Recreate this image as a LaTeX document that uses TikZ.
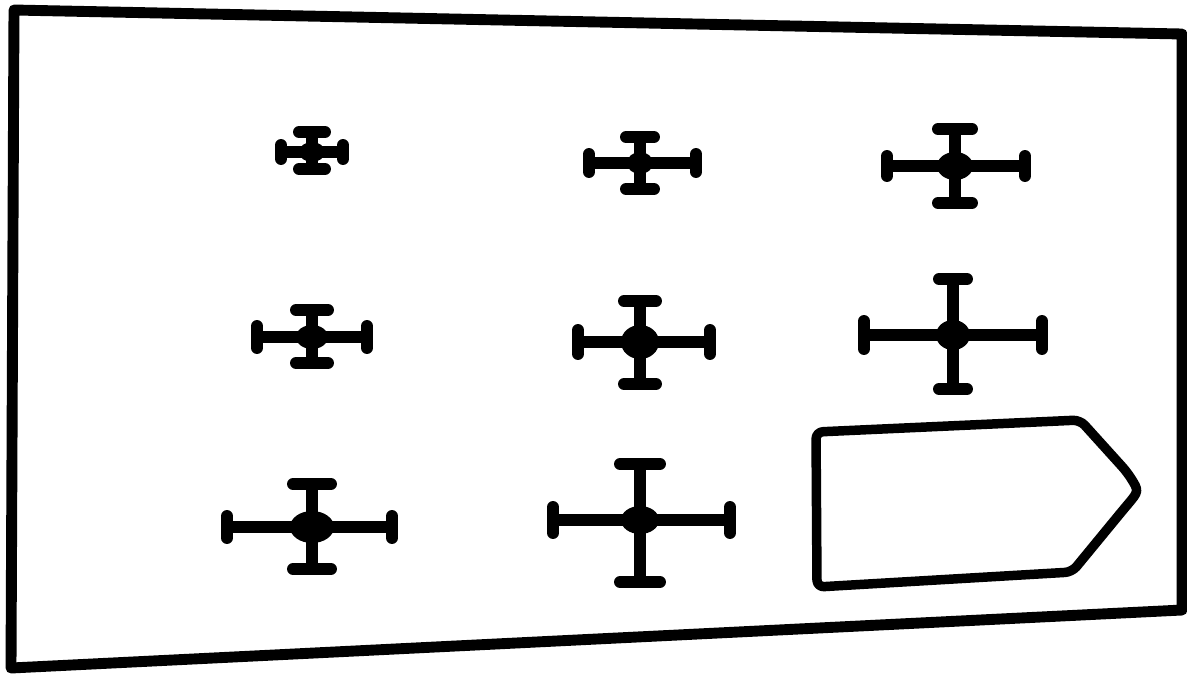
\documentclass[tikz,border=0pt]{standalone}
\usepackage{tikz}

\begin{document}
\begin{tikzpicture}[
  outline/.style={line width=3.1pt, line join=round},
  arm/.style={line width=3.2pt, line cap=round},
  endbar/.style={line width=3.4pt, line cap=round}]
\useasboundingbox (0,0) rectangle (11.87,6.77);
% sheet
\draw[outline] (0.14,6.67) -- (11.82,6.43) -- (11.82,0.67) -- (0.11,0.09) -- cycle;
% crosses: centre / arm ends / bar half lengths / dot radii
\foreach \cx/\cy/\xl/\xr/\yt/\yb/\hc/\vc/\rx/\ry in {
    3.12/5.25/2.81/3.43/5.45/5.08/0.13/0.07/0.13/0.10,
    6.40/5.14/5.89/6.96/5.40/4.88/0.14/0.09/0.13/0.11,
    9.55/5.11/8.87/10.25/5.48/4.74/0.17/0.10/0.18/0.14,
    3.12/3.40/2.57/3.67/3.67/3.14/0.16/0.11/0.16/0.12,
    6.40/3.35/5.78/7.10/3.76/2.93/0.16/0.12/0.19/0.17,
    9.53/3.42/8.64/10.42/3.98/2.88/0.14/0.14/0.17/0.15,
    3.12/1.50/2.27/3.92/1.93/1.08/0.19/0.11/0.22/0.16,
    6.40/1.57/5.53/7.30/2.13/0.95/0.20/0.13/0.19/0.14}{
  \draw[arm] (\xl,\cy) -- (\xr,\cy);
  \draw[arm] (\cx,\yt) -- (\cx,\yb);
  \draw[endbar] (\xl,{\cy-\vc}) -- (\xl,{\cy+\vc});
  \draw[endbar] (\xr,{\cy-\vc}) -- (\xr,{\cy+\vc});
  \draw[endbar] ({\cx-\hc},\yt) -- ({\cx+\hc},\yt);
  \draw[endbar] ({\cx-\hc},\yb) -- ({\cx+\hc},\yb);
  \fill (\cx,\cy) ellipse [x radius=\rx, y radius=\ry];
}
% tag shape
\draw[outline, line width=2.7pt, rounded corners=2pt]
  (8.17,0.90) -- (8.16,2.45) -- (10.80,2.57) -- (11.27,2.05)
  .. controls (11.39,1.86) .. (11.23,1.67) -- (10.72,1.05) -- cycle;
\end{tikzpicture}
\end{document}
